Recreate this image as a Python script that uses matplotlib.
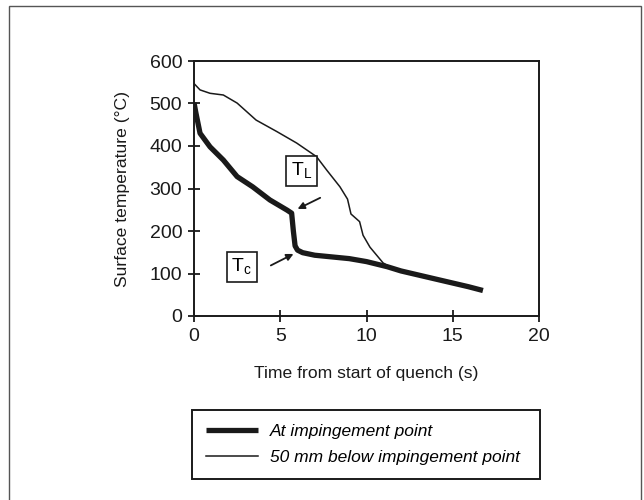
# quench curves: surface temperature vs time

import matplotlib.pyplot as plt
from matplotlib.patches import Rectangle

plt.rcParams["font.family"] = ["Liberation Sans", "DejaVu Sans"]
plt.rcParams["mathtext.fontset"] = "custom"
plt.rcParams["mathtext.rm"] = "Liberation Sans"

# at impingement point (thick line)
time_imp = [0, 0.1, 0.35, 0.93, 1.7, 2.5, 3.4, 4.4, 5.4, 5.66, 5.76, 5.86,
            6.0, 6.3, 7.0, 8.0, 9.0, 10.0, 11.2, 12.0, 14.0, 15.9, 16.75]
temp_imp = [502, 480, 430, 398, 367, 328, 304, 273, 249, 242, 200, 165,
            155, 149, 143, 139, 135, 128, 116, 106, 87, 69, 60]

# 50 mm below impingement point (thin line)
time_below = [0, 0.35, 0.93, 1.7, 2.5, 3.6, 4.8, 5.95, 7.1, 7.7, 8.46, 8.9,
              9.1, 9.6, 9.8, 10.2, 10.96, 11.75]
temp_below = [547, 532, 524, 520, 501, 461, 434, 407, 375, 343, 304, 275,
              240, 222, 190, 162, 125, 106]

x_ticks = [0, 5, 10, 15, 20]
y_ticks = [0, 100, 200, 300, 400, 500, 600]

fig = plt.figure(figsize=(6.44, 5.0), dpi=100)
ax = fig.add_axes([194 / 644, 1 - 316 / 500, 345 / 644, 255 / 500])

ax.plot(time_imp, temp_imp, color="#1a1a1a", lw=3.8,
        solid_capstyle="butt", label="At impingement point")
ax.plot(time_below, temp_below, color="#1a1a1a", lw=1.1,
        label="50 mm below impingement point")

ax.set_xlim(0, 20)
ax.set_ylim(0, 600)
ax.set_xticks(x_ticks)
ax.set_yticks(y_ticks)
ax.tick_params(direction="inout", length=9, width=1.3, labelsize=14,
               color="#1a1a1a", labelcolor="#1a1a1a", pad=4)

for side in ["left", "bottom", "right", "top"]:
    ax.spines[side].set_linewidth(1.4)
    ax.spines[side].set_color("#1a1a1a")

ax.set_xlabel("Time from start of quench (s)", fontsize=12.6,
              color="#1a1a1a", labelpad=15)
ax.set_ylabel("Surface temperature (°C)", fontsize=12.6,
              color="#1a1a1a", labelpad=14)

box = dict(boxstyle="square,pad=0.25", fc="white", ec="#1a1a1a", lw=1.2)
ax.text(6.24, 342, r"T$_\mathrm{L}$", fontsize=14, ha="center", va="center",
        bbox=box)
ax.text(2.77, 115, r"T$_\mathrm{c}$", fontsize=14, ha="center", va="center",
        bbox=box)

arrow = dict(arrowstyle="-|>", color="#1a1a1a", lw=1.3, mutation_scale=10)
ax.annotate("", xy=(5.86, 249), xytext=(7.46, 281), arrowprops=arrow)
ax.annotate("", xy=(5.91, 149), xytext=(4.31, 116), arrowprops=arrow)

leg = fig.legend(loc="upper left",
                 bbox_to_anchor=(192 / 644, 1 - 483 / 500, 348 / 644, 73 / 500),
                 mode="expand", handlelength=3.0, handletextpad=0.7,
                 prop={"style": "italic", "size": 12.5},
                 fancybox=False, edgecolor="#1a1a1a", framealpha=1,
                 borderpad=0.8, labelspacing=0.65, borderaxespad=0)
leg.get_frame().set_linewidth(1.4)

# outer frame around the figure
fig.patches.append(Rectangle((9 / 644, -0.02), 632 / 644, 1.02 - 6 / 500,
                             transform=fig.transFigure, fill=False,
                             ec="#555555", lw=1.0))

fig.savefig("out.png", dpi=100)
